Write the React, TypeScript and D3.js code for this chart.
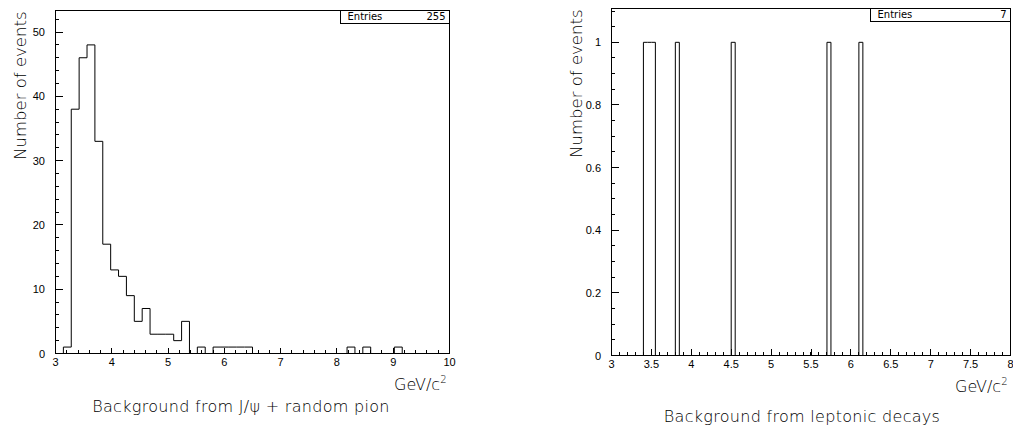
import React from "react";
import * as d3 from "d3";

// J/psi + random pion background, 50 bins from 3 to 10 GeV/c^2
const jpsiCounts = [
  0, 1, 38, 46, 48, 33, 17, 13, 12, 9,
  5, 7, 3, 3, 3, 2, 5, 0, 1, 0,
  1, 1, 1, 1, 1, 0, 0, 0, 0, 0,
  0, 0, 0, 0, 0, 0, 0, 1, 0, 1,
  0, 0, 0, 1, 0, 0, 0, 0, 0, 0,
];
const jpsiRange = [3, 10];
const jpsiYMax = 53.35;
const jpsiEntries = 255;
const jpsiXTicks = [3, 4, 5, 6, 7, 8, 9, 10];
const jpsiYTicks = [0, 10, 20, 30, 40, 50];

// leptonic decays background, 100 bins from 3 to 8 GeV/c^2
const leptCounts = [
  0, 0, 0, 0, 0, 0, 0, 0, 1, 1,
  1, 0, 0, 0, 0, 0, 1, 0, 0, 0,
  0, 0, 0, 0, 0, 0, 0, 0, 0, 0,
  1, 0, 0, 0, 0, 0, 0, 0, 0, 0,
  0, 0, 0, 0, 0, 0, 0, 0, 0, 0,
  0, 0, 0, 0, 1, 0, 0, 0, 0, 0,
  0, 0, 1, 0, 0, 0, 0, 0, 0, 0,
  0, 0, 0, 0, 0, 0, 0, 0, 0, 0,
  0, 0, 0, 0, 0, 0, 0, 0, 0, 0,
  0, 0, 0, 0, 0, 0, 0, 0, 0, 0,
];
const leptRange = [3, 8];
const leptYMax = 1.108;
const leptEntries = 7;
const leptXTicks = [3, 3.5, 4, 4.5, 5, 5.5, 6, 6.5, 7, 7.5, 8];
const leptYTicks = [0, 0.2, 0.4, 0.6, 0.8, 1];

const FONT = "'DejaVu Sans', sans-serif";
const TICKFONT = "'Liberation Sans', Arial, sans-serif";

type PanelProps = {
  counts: number[];
  range: number[];
  yMax: number;
  xTicks: number[];
  yTicks: number[];
  xMinorStep: number;
  yMinorStep: number;
  entries: number;
  title: string;
  frame: { left: number; right: number; top: number; bottom: number };
  boxLeft: number;
  titleY: number;
  titleX: number;
  xMajorLen: number;
};

function Panel(p: PanelProps) {
  const { frame } = p;
  const x = d3.scaleLinear().domain(p.range).range([frame.left, frame.right]);
  const y = d3.scaleLinear().domain([0, p.yMax]).range([frame.bottom, frame.top]);

  const n = p.counts.length;
  const w = (p.range[1] - p.range[0]) / n;
  const pts: [number, number][] = [[p.range[0], 0]];
  p.counts.forEach((c, i) => {
    pts.push([p.range[0] + i * w, c]);
    pts.push([p.range[0] + (i + 1) * w, c]);
  });
  pts.push([p.range[1], 0]);
  const line = d3
    .line<[number, number]>()
    .x((d) => x(d[0]))
    .y((d) => y(d[1]));

  const xMinor: number[] = [];
  for (let v = p.range[0]; v <= p.range[1] + 1e-9; v += p.xMinorStep) xMinor.push(v);
  const yMinor: number[] = [];
  for (let v = 0; v <= p.yMax + 1e-9; v += p.yMinorStep) yMinor.push(v);

  const r = (v: number) => Math.round(v - 0.5) + 0.5;

  return (
    <g>
      <path d={line(pts) || ""} fill="none" stroke="#000" strokeWidth={1} />
      <g shapeRendering="crispEdges" stroke="#000" strokeWidth={1}>
        <rect
          x={frame.left}
          y={frame.top}
          width={frame.right - frame.left}
          height={frame.bottom - frame.top}
          fill="none"
        />
        {xMinor.map((v, i) => (
          <line key={"xm" + i} x1={r(x(v))} x2={r(x(v))} y1={frame.bottom} y2={frame.bottom - 3.5} />
        ))}
        {p.xTicks.map((v, i) => (
          <line key={"xM" + i} x1={r(x(v))} x2={r(x(v))} y1={frame.bottom} y2={frame.bottom - p.xMajorLen} />
        ))}
        {yMinor.map((v, i) => (
          <line key={"ym" + i} x1={frame.left} x2={frame.left + 3.5} y1={r(y(v))} y2={r(y(v))} />
        ))}
        {p.yTicks.map((v, i) => (
          <line key={"yM" + i} x1={frame.left} x2={frame.left + 7} y1={r(y(v))} y2={r(y(v))} />
        ))}
      </g>
      <g fontFamily={TICKFONT} fontSize={11} fill="#000">
        {p.xTicks.map((v, i) => (
          <text key={"xl" + i} x={x(v)} y={frame.bottom + 12} textAnchor="middle">
            {String(v)}
          </text>
        ))}
        {p.yTicks.map((v, i) => (
          <text key={"yl" + i} x={frame.left - 10.5} y={y(v) + 4} textAnchor="end">
            {String(v)}
          </text>
        ))}
      </g>
      <text
        transform={`translate(${frame.left - 30},${frame.top + 1}) rotate(-90)`}
        textAnchor="end"
        fontFamily={FONT}
        fontSize={16.5}
        fontWeight={300}
      >
        Number of events
      </text>
      <text
        x={frame.right - 3}
        y={frame.bottom + 36}
        textAnchor="end"
        fontFamily={FONT}
        fontSize={16}
        fontWeight={300}
      >
        GeV/c
        <tspan fontSize={10} dy={-7}>
          2
        </tspan>
      </text>
      <text
        x={p.titleX}
        y={p.titleY}
        textAnchor="middle"
        fontFamily={FONT}
        fontSize={16}
        fontWeight={300}
        letterSpacing={0.3}
      >
        {p.title}
      </text>
      <rect
        x={p.boxLeft}
        y={frame.top}
        width={frame.right - p.boxLeft}
        height={12.5}
        fill="#fff"
        stroke="#000"
        strokeWidth={1}
        shapeRendering="crispEdges"
      />
      <g fontFamily={FONT} fontSize={10}>
        <text x={p.boxLeft + 7} y={frame.top + 9.5}>
          Entries
        </text>
        <text x={frame.right - 4} y={frame.top + 9.5} textAnchor="end">
          {String(p.entries)}
        </text>
      </g>
    </g>
  );
}

export default function App() {
  return (
    <svg
      width={1013}
      height={427}
      style={{ position: "absolute", left: 0, top: 0, background: "#fff" }}
    >
      <rect width={1013} height={427} fill="#fff" />
      <Panel
        counts={jpsiCounts}
        range={jpsiRange}
        yMax={jpsiYMax}
        xTicks={jpsiXTicks}
        yTicks={jpsiYTicks}
        xMinorStep={0.2}
        yMinorStep={2}
        entries={jpsiEntries}
        title="Background from J/ψ + random pion"
        frame={{ left: 55.5, right: 449.5, top: 10.5, bottom: 353.5 }}
        boxLeft={340.5}
        titleX={241}
        titleY={412}
        xMajorLen={6}
      />
      <Panel
        counts={leptCounts}
        range={leptRange}
        yMax={leptYMax}
        xTicks={leptXTicks}
        yTicks={leptYTicks}
        xMinorStep={0.1}
        yMinorStep={0.05}
        entries={leptEntries}
        title="Background from leptonic decays"
        frame={{ left: 611.5, right: 1010.5, top: 8.5, bottom: 355.5 }}
        boxLeft={870.5}
        titleX={802}
        titleY={422}
        xMajorLen={7}
      />
    </svg>
  );
}
